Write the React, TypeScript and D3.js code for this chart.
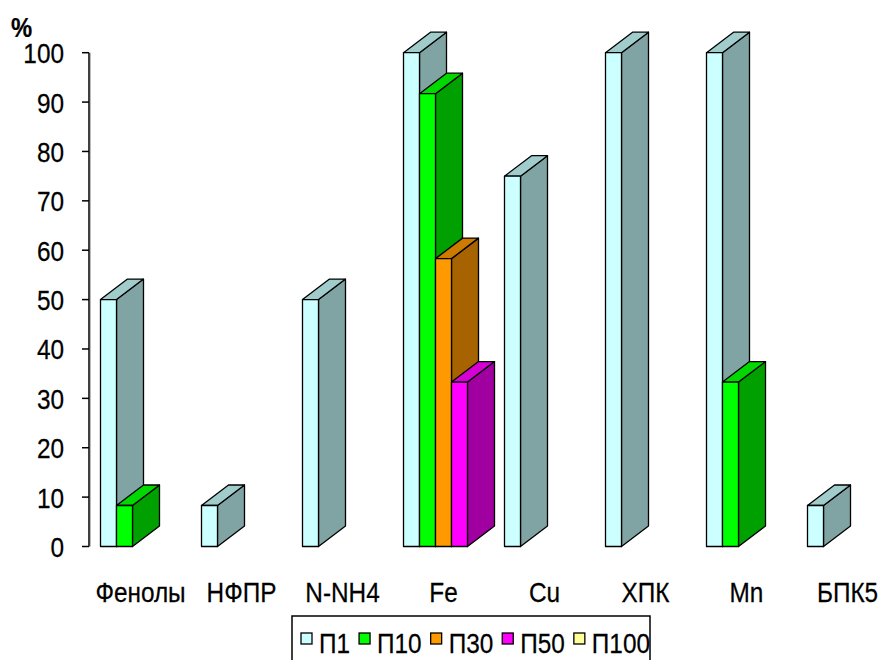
import React, { useEffect, useRef } from "react";
import * as d3 from "d3";

// Share of samples (%) exceeding limits, by indicator and dilution level
const categories: string[] = ["Фенолы", "НФПР", "N-NH4", "Fe", "Cu", "ХПК", "Mn", "БПК5"];
const seriesNames: string[] = ["П1", "П10", "П30", "П50", "П100"];
const p1: number[] = [50, 8.3, 50, 100, 75, 100, 100, 8.3];
const p10: number[] = [8.3, 0, 0, 91.7, 0, 0, 33.3, 0];
const p30: number[] = [0, 0, 0, 58.3, 0, 0, 0, 0];
const p50: number[] = [0, 0, 0, 33.3, 0, 0, 0, 0];
const p100: number[] = [0, 0, 0, 0, 0, 0, 0, 0];
const seriesValues: number[][] = [p1, p10, p30, p50, p100];
const yTicks: number[] = [0, 10, 20, 30, 40, 50, 60, 70, 80, 90, 100];

// front / top / side shades for each series
const frontColors = ["#CCFFFF", "#00FF00", "#FF9900", "#FF00FF", "#FFFF99"];
const topColors = ["#A0CCCC", "#00D800", "#CC7A00", "#D400D4", "#CCCC7A"];
const sideColors = ["#80A3A3", "#00A000", "#A66300", "#A000A0", "#A3A360"];

const W = 885;
const H = 660;
const FONT = "'Liberation Sans', Arial, sans-serif";
const FS = 28;
const SX = 0.87;

// narrow text, as the chart's labels are set condensed
function label(parent: any, x: number, y: number, s: string, anchor = "start", size = FS, sx = SX, weight = "normal") {
  return parent
    .append("text")
    .attr("transform", `translate(${x},${y}) scale(${sx},1)`)
    .attr("text-anchor", anchor)
    .attr("font-family", FONT)
    .attr("font-size", size)
    .attr("font-weight", weight)
    .attr("fill", "#000")
    .attr("stroke", "#000")
    .attr("stroke-width", 0.25)
    .text(s);
}

export default function App() {
  const ref = useRef<SVGSVGElement | null>(null);

  useEffect(() => {
    const svg = d3.select(ref.current);
    svg.selectAll("*").remove();

    const axisX = 89;
    const y = d3.scaleLinear().domain([0, 100]).range([546.5, 52.7]);
    const x = d3.scaleBand<string>().domain(categories).range([90, 90 + 8 * 101]).paddingInner(0).paddingOuter(0);
    const groupW = 80;
    const xs = d3.scaleBand<string>().domain(seriesNames).range([0, groupW]);
    const dx = 27;
    const dy = -20.5;

    svg.append("rect").attr("width", W).attr("height", H).attr("fill", "#fff");

    // bars
    const bars = svg.append("g");
    categories.forEach((cat, ci) => {
      const gx = (x(cat) as number) + (x.bandwidth() - groupW) / 2;
      seriesNames.forEach((s, si) => {
        const v = seriesValues[si][ci];
        if (!v) return;
        const x0 = gx + (xs(s) as number);
        const x1 = x0 + xs.bandwidth();
        const yt = y(v);
        const yb = y(0);
        const g = bars.append("g").attr("stroke", "#000").attr("stroke-width", 1.3).attr("stroke-linejoin", "round");
        g.append("polygon")
          .attr("points", [[x1, yt], [x1 + dx, yt + dy], [x1 + dx, yb + dy], [x1, yb]].map((p) => p.join(",")).join(" "))
          .attr("fill", sideColors[si]);
        g.append("polygon")
          .attr("points", [[x0, yt], [x0 + dx, yt + dy], [x1 + dx, yt + dy], [x1, yt]].map((p) => p.join(",")).join(" "))
          .attr("fill", topColors[si]);
        g.append("rect")
          .attr("x", x0)
          .attr("y", yt)
          .attr("width", x1 - x0)
          .attr("height", yb - yt)
          .attr("fill", frontColors[si]);
      });
    });

    // y axis
    const ax = svg.append("g");
    ax.append("line")
      .attr("x1", axisX + 1.5).attr("x2", axisX + 1.5)
      .attr("y1", y(100)).attr("y2", y(0))
      .attr("stroke", "#bbb").attr("stroke-width", 1);
    ax.append("line")
      .attr("x1", axisX).attr("x2", axisX)
      .attr("y1", y(100)).attr("y2", y(0))
      .attr("stroke", "#000").attr("stroke-width", 1.5);
    yTicks.forEach((t) => {
      ax.append("line")
        .attr("x1", axisX - 7).attr("x2", axisX)
        .attr("y1", y(t)).attr("y2", y(t))
        .attr("stroke", "#000").attr("stroke-width", 1.5);
      label(ax, 64, y(t) + 10.5, String(t), "end");
    });

    label(svg, 11, 37, "%", "start", 28, 0.85, "bold");

    // category labels
    categories.forEach((cat) => {
      label(svg, (x(cat) as number) + x.bandwidth() / 2, 602, cat, "middle");
    });

    // legend
    const lg = svg.append("g");
    lg.append("rect")
      .attr("x", 292).attr("y", 616).attr("width", 358).attr("height", 60)
      .attr("fill", "#fff").attr("stroke", "#000").attr("stroke-width", 1.5);
    let cx = 301;
    seriesNames.forEach((s, si) => {
      lg.append("rect")
        .attr("x", cx).attr("y", 633).attr("width", 11).attr("height", 11)
        .attr("fill", frontColors[si]).attr("stroke", "#000").attr("stroke-width", 1.3);
      const t = label(lg, cx + 18, 653, s);
      const w = (t.node() as SVGTextElement).getComputedTextLength() * SX;
      cx += 18 + w + 9;
    });
  }, []);

  return (
    <svg
      ref={ref}
      width={W}
      height={H}
      style={{ position: "absolute", left: 0, top: 0, display: "block" }}
    />
  );
}
